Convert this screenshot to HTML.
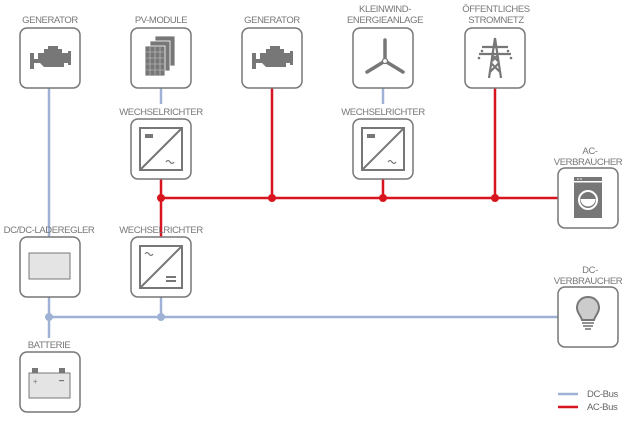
<!DOCTYPE html>
<html><head><meta charset="utf-8"><style>
html,body{margin:0;padding:0;background:#fff;}
svg{display:block;}
text{font-family:"Liberation Sans",sans-serif;font-size:9.5px;fill:#777;text-anchor:middle;letter-spacing:-0.4px;}
.box{fill:#fff;stroke:#777;stroke-width:1.5;}
.ic{fill:#777;}
</style></head><body>
<svg width="628" height="435" viewBox="0 0 628 435">
<g stroke="#9fb2d6" stroke-width="2.5" fill="none">
<line x1="49" y1="88" x2="49" y2="237"/>
<line x1="49" y1="296" x2="49" y2="338"/>
<line x1="49" y1="317" x2="558" y2="317"/>
<line x1="161" y1="296" x2="161" y2="317"/>
<line x1="161" y1="88" x2="161" y2="104"/>
<line x1="383" y1="88" x2="383" y2="104"/>
</g>
<g fill="#9fb2d6"><circle cx="49" cy="317" r="4"/><circle cx="161" cy="317" r="4"/></g>
<g stroke="#d8141e" stroke-width="2.5" fill="none">
<line x1="161" y1="179" x2="161" y2="237"/>
<line x1="161" y1="198" x2="558" y2="198"/>
<line x1="272" y1="88" x2="272" y2="198"/>
<line x1="495" y1="88" x2="495" y2="198"/>
<line x1="383" y1="179" x2="383" y2="198"/>
</g>
<g fill="#d8141e"><circle cx="161" cy="198" r="4"/><circle cx="272" cy="198" r="4"/><circle cx="383" cy="198" r="4"/><circle cx="495" cy="198" r="4"/></g>

<g class="box">
<rect x="20" y="28" width="60" height="60" rx="7"/>
<rect x="131" y="28" width="60" height="60" rx="7"/>
<rect x="242" y="28" width="60" height="60" rx="7"/>
<rect x="353" y="28" width="60" height="60" rx="7"/>
<rect x="465" y="28" width="60" height="60" rx="7"/>
<rect x="131" y="119" width="60" height="60" rx="7"/>
<rect x="353" y="119" width="60" height="60" rx="7"/>
<rect x="558" y="168" width="60" height="60" rx="7"/>
<rect x="20" y="237" width="60" height="60" rx="7"/>
<rect x="131" y="237" width="60" height="60" rx="7"/>
<rect x="558" y="287" width="60" height="60" rx="7"/>
<rect x="20" y="352" width="60" height="60" rx="7"/>
</g>

<text x="50" y="23">GENERATOR</text>
<text x="161" y="23">PV-MODULE</text>
<text x="272" y="23">GENERATOR</text>
<text x="385" y="12">KLEINWIND-</text>
<text x="385" y="23">ENERGIEANLAGE</text>
<text x="496" y="12">ÖFFENTLICHES</text>
<text x="496" y="23">STROMNETZ</text>
<text x="161" y="115">WECHSELRICHTER</text>
<text x="383" y="115">WECHSELRICHTER</text>
<text x="590" y="154">AC-</text>
<text x="588" y="165">VERBRAUCHER</text>
<text x="49" y="233">DC/DC-LADEREGLER</text>
<text x="161" y="233">WECHSELRICHTER</text>
<text x="590" y="273">DC-</text>
<text x="588" y="284">VERBRAUCHER</text>
<text x="49" y="348">BATTERIE</text>

<g class="ic">
<path d="M30 53h4v6h4v-6h6v-4h4v-3h10v3h4v4h6v-2h3v14h-3v-2h-4v4h-20l-4-4h-6v6h-4z"/>
<path d="M252 53h4v6h4v-6h6v-4h4v-3h10v3h4v4h6v-2h3v14h-3v-2h-4v4h-20l-4-4h-6v6h-4z"/>
</g>
<g fill="#777" stroke="#fff" stroke-width="0.8">
<rect x="155" y="36" width="20" height="30"/>
<rect x="150" y="41" width="20" height="30"/>
<rect x="145" y="46" width="20" height="30"/>
</g>
<g stroke="#ccc" stroke-width="0.6">
<line x1="150" y1="47" x2="150" y2="75"/><line x1="155" y1="47" x2="155" y2="75"/><line x1="160" y1="47" x2="160" y2="75"/>
<line x1="146" y1="52" x2="164" y2="52"/><line x1="146" y1="58" x2="164" y2="58"/><line x1="146" y1="64" x2="164" y2="64"/><line x1="146" y1="70" x2="164" y2="70"/>
</g>
<g stroke="#777" stroke-width="3.5" stroke-linecap="round">
<line x1="385" y1="61" x2="385" y2="40"/>
<line x1="385" y1="61" x2="367" y2="72"/>
<line x1="385" y1="61" x2="403" y2="72"/>
</g>
<circle cx="385" cy="61" r="2.5" fill="#fff" stroke="#777" stroke-width="1.2"/>
<g stroke="#777" stroke-width="2.2" fill="none">
<path d="M489 78l6-40l6 40M490 72l9-9M500 72l-9-9M492 61l6-6M498 61l-6-6"/>
<path d="M482 47h26M479 54h32"/>
</g>
<g fill="#777"><circle cx="482" cy="51" r="1.3"/><circle cx="508" cy="51" r="1.3"/><circle cx="479" cy="58" r="1.3"/><circle cx="511" cy="58" r="1.3"/></g>
<g stroke="#777" stroke-width="2" fill="none">
<rect x="140" y="128" width="42" height="42"/><line x1="140" y1="170" x2="182" y2="128"/>
<rect x="362" y="128" width="42" height="42"/><line x1="362" y1="170" x2="404" y2="128"/>
<rect x="140" y="246" width="42" height="42"/><line x1="140" y1="288" x2="182" y2="246"/>
</g>
<g class="ic"><rect x="145" y="134" width="8" height="4"/><rect x="367" y="134" width="8" height="4"/>
<rect x="166" y="276" width="10" height="2"/><rect x="166" y="280" width="10" height="2"/></g>
<g stroke="#777" stroke-width="1.2" fill="none">
<path d="M166 162q2-3 4 0t4 0"/><path d="M388 162q2-3 4 0t4 0"/><path d="M145 254q2-3 4 0t4 0"/>
</g>
<rect x="574" y="177" width="28" height="41" fill="#777"/>
<rect x="574" y="181" width="28" height="1.5" fill="#fff"/>
<circle cx="578" cy="179" r="0.8" fill="#fff"/><circle cx="581" cy="179" r="0.8" fill="#fff"/>
<circle cx="588" cy="200" r="9" fill="none" stroke="#fff" stroke-width="2"/>
<path d="M580.5 199a7.5 7.5 0 0 0 15 0z" fill="#fff"/>
<rect x="29" y="253" width="41" height="26" fill="#e4e4e4" stroke="#777" stroke-width="1"/>
<path d="M588 297c-7 0-11 5-11 11c0 5 4 8 5 12h12c1-4 5-7 5-12c0-6-4-11-11-11z" fill="#ccc" stroke="#777" stroke-width="2"/>
<g stroke="#777" stroke-width="1.6"><line x1="582" y1="323" x2="594" y2="323"/><line x1="583" y1="326" x2="593" y2="326"/><line x1="585" y1="329" x2="591" y2="329"/></g>
<rect x="32" y="368" width="6" height="5" fill="#777"/><rect x="59" y="368" width="6" height="5" fill="#777"/>
<rect x="29" y="373" width="41" height="25" fill="#e4e4e4" stroke="#777" stroke-width="1"/>
<text x="35" y="384" style="font-size:8px">+</text><rect x="59" y="380" width="5" height="1.2" fill="#777"/>
<line x1="558" y1="394" x2="578" y2="394" stroke="#9fb2d6" stroke-width="2.5"/>
<line x1="558" y1="407" x2="578" y2="407" stroke="#d8141e" stroke-width="2.5"/>
<text x="587" y="397" style="text-anchor:start;fill:#666">DC-Bus</text>
<text x="587" y="410" style="text-anchor:start;fill:#666">AC-Bus</text>
</svg>
</body></html>
